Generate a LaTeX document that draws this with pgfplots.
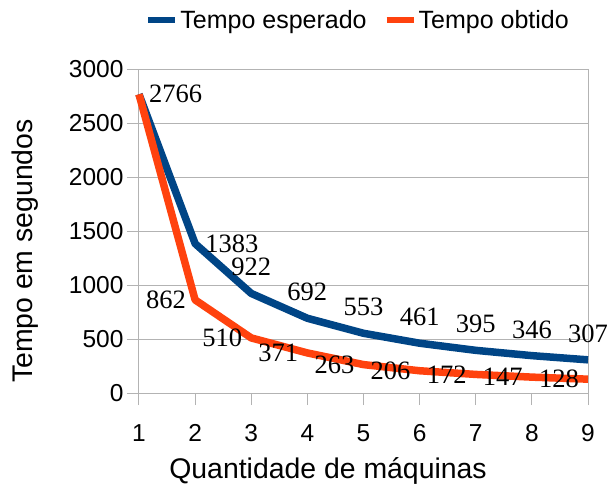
\documentclass[border=0pt]{standalone}
\usepackage{pgfplots}
\pgfplotsset{compat=1.18}
\usepackage{fontspec}
\setmainfont{Liberation Sans}
\newfontfamily\seriffont{Liberation Serif}
\definecolor{lblue}{HTML}{004586}
\definecolor{lorange}{HTML}{FF420E}
\definecolor{lgrid}{HTML}{B3B3B3}
\begin{document}
\begin{tikzpicture}
\path[use as bounding box] (-139pt,-92pt) rectangle (472pt,393pt);
\begin{axis}[
  scale only axis, width=449pt, height=324pt,
  xmin=1, xmax=9, ymin=0, ymax=3000,
  xtick={1,...,9}, ytick={0,500,...,3000},
  xtick pos=lower, ytick pos=left,
  ymajorgrids, grid style={lgrid, line width=1pt},
  axis line style={lgrid, line width=1pt},
  tick style={lgrid, line width=1pt},
  tick align=outside, major tick length=12pt,
  ticklabel style={font=\fontsize{24.5}{28}\selectfont, text=black},
  xticklabel style={yshift=-16pt},
  /pgf/number format/assume math mode=true,
  /pgf/number format/1000 sep={},
  xlabel={Quantidade de máquinas}, ylabel={Tempo em segundos},
  label style={font=\fontsize{28.4}{32}\selectfont},
  xlabel style={at={(axis description cs:0.421,-0.2654)}, anchor=base},
  ylabel style={at={(axis description cs:-0.2361,0.438)}, anchor=base},
  clip=false,
  legend style={at={(axis description cs:0.488,1.151)}, anchor=center, draw=none, fill=none,
    font=\fontsize{25}{28}\selectfont, inner sep=0pt,
    /tikz/every even column/.append style={column sep=15pt}},
  legend columns=2, legend cell align=left,
  legend image code/.code={\draw[#1, line width=6pt] (0pt,0pt) -- (27pt,0pt);},
]
\addplot[lblue, line width=7.5pt, line join=round] coordinates {(1,2766)(2,1383)(3,922)(4,692)(5,553)(6,461)(7,395)(8,346)(9,307)};
\addlegendentry{Tempo esperado}
\addplot[lorange, line width=7.5pt, line join=round] coordinates {(1,2766)(2,862)(3,510)(4,371)(5,263)(6,206)(7,172)(8,147)(9,128)};
\addlegendentry{Tempo obtido}
\addplot[draw=none, forget plot, point meta=explicit symbolic,
  nodes near coords={\pgfplotspointmeta},
  every node near coord/.append style={anchor=west, inner sep=0pt, xshift=10pt,
    font={\seriffont\fontsize{26.5}{30}\selectfont}, text=black}]
  coordinates {(1,2766)[2766] (2,1383)[1383]};
\addplot[draw=none, forget plot, point meta=explicit symbolic,
  nodes near coords={\pgfplotspointmeta},
  every node near coord/.append style={anchor=south, inner sep=0pt, yshift=17pt,
    font={\seriffont\fontsize{26.5}{30}\selectfont}, text=black}]
  coordinates {(3,922)[922] (4,692)[692] (5,553)[553] (6,461)[461] (7,395)[395] (8,346)[346] (9,307)[307]};
\addplot[draw=none, forget plot, point meta=explicit symbolic,
  nodes near coords={\pgfplotspointmeta},
  every node near coord/.append style={anchor=east, inner sep=0pt, xshift=-9pt,
    font={\seriffont\fontsize{26.5}{30}\selectfont}, text=black}]
  coordinates {(2,862)[862] (3,510)[510] (4,371)[371] (5,263)[263] (6,206)[206] (7,172)[172] (8,147)[147] (9,128)[128]};
\end{axis}
\end{tikzpicture}
\end{document}
